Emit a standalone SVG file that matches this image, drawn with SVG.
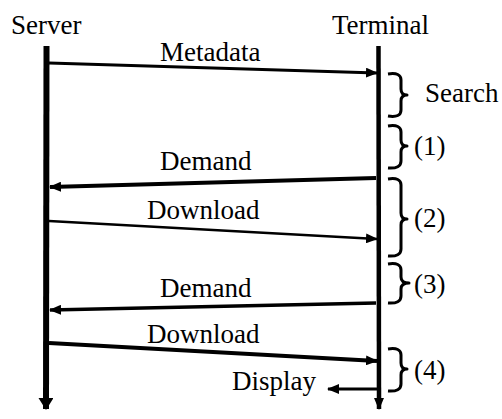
<svg xmlns="http://www.w3.org/2000/svg" width="502" height="419" viewBox="0 0 502 419">
<style>
text{font-family:'Liberation Serif','DejaVu Serif',serif;font-size:27px;fill:#000}
.msg{fill:none;stroke:#000;stroke-linecap:butt}
.brace{fill:none;stroke:#000;stroke-width:3;stroke-linejoin:round}
.life{stroke:#000;fill:none}
</style>
<defs>
<marker id="ah" markerUnits="userSpaceOnUse" markerWidth="12" markerHeight="10" refX="11" refY="5" orient="auto">
<path d="M0,0 L12,5 L0,10 z" fill="#000"/>
</marker>
<marker id="ahb" markerUnits="userSpaceOnUse" markerWidth="12" markerHeight="15" refX="11" refY="7.5" orient="auto">
<path d="M0,0 L12,7.5 L0,15 z" fill="#000"/>
</marker>
</defs>
<g id="server">
<text x="11" y="34" font-family="Liberation Serif, DejaVu Serif, serif">Server</text>
<line class="life" x1="46.5" y1="46" x2="46" y2="409" stroke-width="6" marker-end="url(#ahb)"/>
</g>
<g id="terminal">
<text x="332" y="34" font-family="Liberation Serif, DejaVu Serif, serif">Terminal</text>
<line class="life" x1="378.5" y1="46" x2="379" y2="409" stroke-width="4.5" marker-end="url(#ah)"/>
</g>
<g id="connectors">
<line class="msg" x1="49" y1="63" x2="377" y2="73" stroke-width="3" marker-end="url(#ah)"/>
<line class="msg" x1="376" y1="178" x2="50" y2="187" stroke-width="4" marker-end="url(#ah)"/>
<line class="msg" x1="49" y1="221" x2="377" y2="239" stroke-width="2.5" marker-end="url(#ah)"/>
<line class="msg" x1="376" y1="303" x2="50" y2="310" stroke-width="3.5" marker-end="url(#ah)"/>
<line class="msg" x1="49" y1="343" x2="377" y2="361" stroke-width="4" marker-end="url(#ah)"/>
<line class="msg" x1="377" y1="389" x2="328" y2="389" stroke-width="3" marker-end="url(#ah)"/>
</g>
<g id="labels" font-family="Liberation Serif, DejaVu Serif, serif">
<text x="160" y="61">Metadata</text>
<text x="160" y="170">Demand</text>
<text x="147" y="219">Download</text>
<text x="160" y="297">Demand</text>
<text x="147" y="343">Download</text>
<text x="232" y="390">Display</text>
</g>
<g id="brace-search">
<path class="brace" d="M388,74 Q401,72 401,80 L401,89 Q401,95 407,95 Q401,95 401,101 L401,110 Q401,118 388,116"/>
<text x="425" y="102">Search</text>
</g>
<g id="brace-1">
<path class="brace" d="M388,126 Q401,124 401,132 L401,140 Q401,146 407,146 Q401,146 401,152 L401,161 Q401,169 388,168"/>
<text x="414" y="155">(1)</text>
</g>
<g id="brace-2">
<path class="brace" d="M388,179 Q401,177 401,185 L401,213 Q401,219 407,219 Q401,219 401,225 L401,249 Q401,257 388,256"/>
<text x="414" y="227">(2)</text>
</g>
<g id="brace-3">
<path class="brace" d="M388,264 Q401,262 401,270 L401,277 Q401,283 409,283 Q401,283 401,289 L401,296 Q401,304 388,303"/>
<text x="414" y="293">(3)</text>
</g>
<g id="brace-4">
<path class="brace" d="M388,349 Q401,347 401,355 L401,363 Q401,369 407,369 Q401,369 401,375 L401,384 Q401,392 388,391"/>
<text x="414" y="379">(4)</text>
</g>
</svg>
